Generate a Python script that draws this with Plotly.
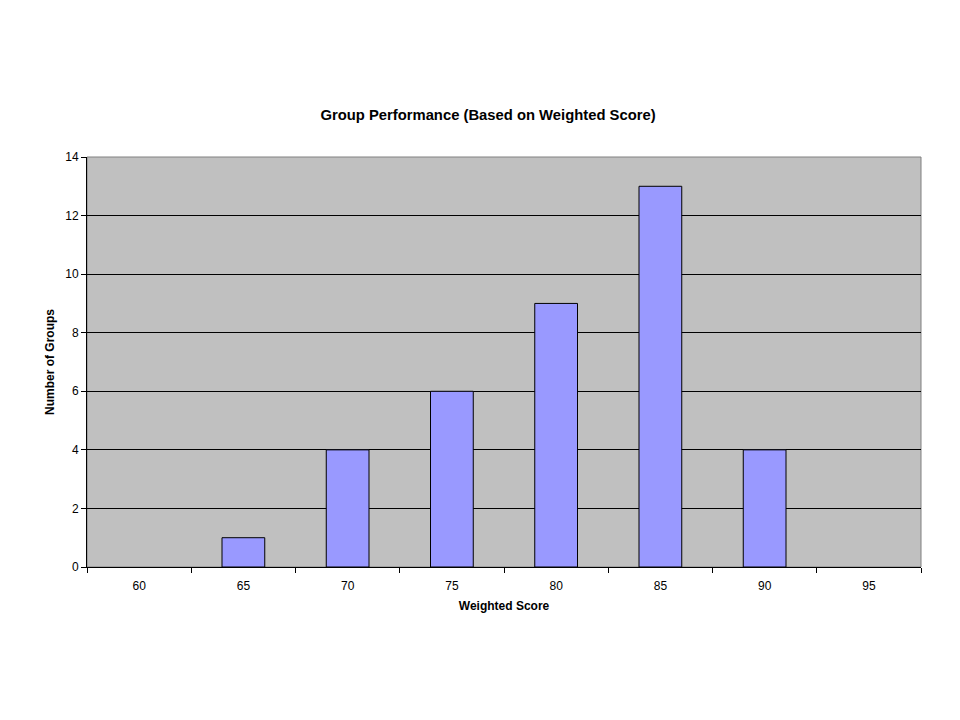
import plotly.graph_objects as go

categories = ["60", "65", "70", "75", "80", "85", "90", "95"]
counts = [0, 1, 4, 6, 9, 13, 4, 0]
y_ticks = [0, 2, 4, 6, 8, 10, 12, 14]

# empty bins are not drawn at all in the reference
bar_values = [c if c > 0 else None for c in counts]

fig = go.Figure()
fig.add_trace(go.Bar(
    x=categories, y=bar_values,
    marker=dict(color="#9999FF", line=dict(color="black", width=1)),
    showlegend=False,
))

fig.update_layout(
    width=960, height=720,
    paper_bgcolor="white",
    plot_bgcolor="#C0C0C0",
    margin=dict(l=79, r=47, t=149, b=161),
    bargap=0.59,
    title=dict(text="<b>Group Performance (Based on Weighted Score)</b>",
               x=0.5, xanchor="center", y=1 - 107 / 720, yanchor="middle",
               font=dict(family="Liberation Sans, Arial", size=14.8, color="black")),
    font=dict(family="Liberation Sans, Arial", size=12, color="black"),
    xaxis=dict(
        type="category",
        title=dict(text="<b>Weighted Score</b>", standoff=9,
                   font=dict(size=12)),
        showline=True, linecolor="black", linewidth=1,
        ticks="outside", ticklen=5, tickcolor="black", tickson="boundaries",
        ticklabelstandoff=8,
        showgrid=False, zeroline=False,
        range=[-0.5, 7.5],
    ),
    yaxis=dict(
        title=dict(text="<b>Number of Groups</b>", standoff=8,
                   font=dict(size=12)),
        range=[0, 14], tickvals=y_ticks,
        showline=True, linecolor="black", linewidth=1,
        ticks="outside", ticklen=5, tickcolor="black",
        showgrid=True, gridcolor="black", gridwidth=1,
        zeroline=False,
    ),
    shapes=[dict(type="rect", xref="paper", yref="paper", x0=0, x1=1, y0=0, y1=1,
                 line=dict(color="#808080", width=1), layer="below")],
)

fig.write_html("out.html")
